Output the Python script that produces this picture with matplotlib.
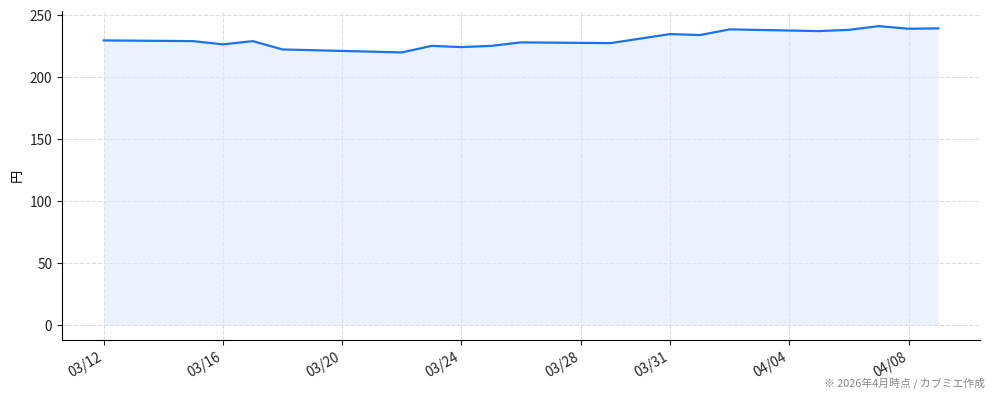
import pandas as pd
import matplotlib
matplotlib.use('Agg')
import matplotlib.pyplot as plt
import matplotlib.dates as mdates

plt.rcParams['font.family'] = ['Noto Sans CJK JP', 'DejaVu Sans']

dates = ['2026-03-12', '2026-03-15', '2026-03-16', '2026-03-17', '2026-03-18',
         '2026-03-22', '2026-03-23', '2026-03-24', '2026-03-25', '2026-03-26',
         '2026-03-29', '2026-03-31', '2026-04-01', '2026-04-02', '2026-04-05',
         '2026-04-06', '2026-04-07', '2026-04-08', '2026-04-09']
price = [229.6, 229.0, 226.4, 229.0, 222.3,
         219.9, 225.2, 224.2, 225.2, 228.0,
         227.4, 234.7, 233.9, 238.5, 237.1,
         238.1, 241.1, 239.0, 239.3]
tick_dates = ['2026-03-12', '2026-03-16', '2026-03-20', '2026-03-24',
              '2026-03-28', '2026-03-31', '2026-04-04', '2026-04-08']

x = pd.to_datetime(dates)
ticks = pd.to_datetime(tick_dates)

fig = plt.figure(figsize=(9.94, 4), dpi=100)
ax = fig.add_axes([0.0624, 0.15, 0.9236, 0.822])

ax.fill_between(x, price, 0, color='#dce8fc', alpha=0.55, linewidth=0)
ax.plot(x, price, color='#1a73e8', linewidth=1.6)

ax.set_xticks(ticks)
ax.xaxis.set_major_formatter(mdates.DateFormatter('%m/%d'))
plt.setp(ax.get_xticklabels(), rotation=30, ha='right')
ax.set_yticks([0, 50, 100, 150, 200, 250])
ax.tick_params(labelsize=9.8, colors='#222222')
ax.set_ylabel('円', fontsize=9.5)

ax.grid(True, linestyle='--', color='#dddddd', linewidth=0.8)
ax.set_axisbelow(True)
ax.spines['top'].set_visible(False)
ax.spines['right'].set_visible(False)

fig.text(0.991, 0.028, '※ 2026年4月時点 / カブミエ作成', ha='right', va='bottom',
         fontsize=7.8, color='#888888')

fig.savefig('out.png', dpi=100)
